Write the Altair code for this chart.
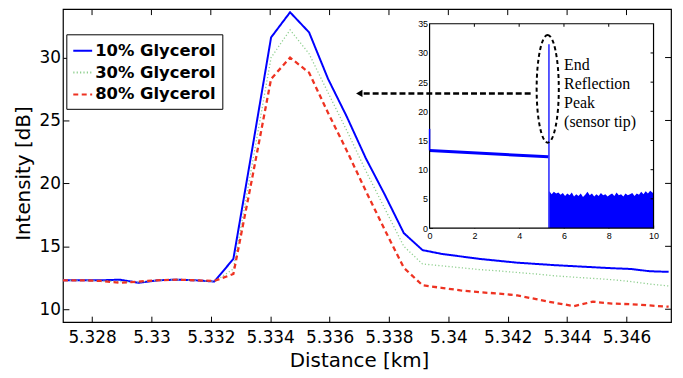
import altair as alt
import pandas as pd

# ---------------- main chart data ----------------
distance_km = [5.32702, 5.32766, 5.32830, 5.32893, 5.32957, 5.33021, 5.33085, 5.33148,
               5.33212, 5.33276, 5.33340, 5.33403, 5.33467, 5.33531, 5.33595, 5.33658,
               5.33722, 5.33786, 5.33850, 5.33913, 5.33977, 5.34041, 5.34105, 5.34168,
               5.34232, 5.34296, 5.34360, 5.34423, 5.34487, 5.34551, 5.34615, 5.34678,
               5.34742]
glycerol_10 = [12.3, 12.3, 12.3, 12.35, 12.1, 12.3, 12.35, 12.3, 12.2, 14.0, 22.8, 31.6,
               33.6, 32.0, 28.3, 25.3, 22.0, 19.1, 16.05, 14.7, 14.4, 14.2, 14.0, 13.85,
               13.7, 13.6, 13.5, 13.42, 13.34, 13.26, 13.2, 13.02, 12.97]
glycerol_30 = [12.3, 12.3, 12.25, 12.2, 12.15, 12.3, 12.35, 12.3, 12.2, 13.2, 21.6, 30.0,
               32.2, 30.3, 27.2, 24.2, 21.0, 18.0, 15.0, 13.6, 13.45, 13.3, 13.15, 13.05,
               12.92, 12.8, 12.65, 12.55, 12.45, 12.35, 12.2, 12.0, 11.85]
glycerol_80 = [12.3, 12.3, 12.25, 12.1, 12.2, 12.3, 12.35, 12.3, 12.25, 12.8, 20.5, 28.3,
               30.0, 28.8, 25.6, 22.6, 19.4, 16.3, 13.3, 11.9, 11.7, 11.5, 11.35, 11.25,
               11.1, 10.8, 10.5, 10.25, 10.6, 10.45, 10.4, 10.3, 10.2]
series_names = ["10% Glycerol", "30% Glycerol", "80% Glycerol"]
series_colors = ["#0000ff", "#8fcf8f", "#ee3322"]
series_dash = [[1, 0], [1.2, 2.2], [5, 3.5]]
series_width = [2, 1.3, 2.3]

x_ticks = [5.328, 5.33, 5.332, 5.334, 5.336, 5.338, 5.34, 5.342, 5.344, 5.346]
y_ticks = [10, 15, 20, 25, 30]
x_domain = [5.32702, 5.3475]
y_domain = [8.974, 33.845]

# arrow pointing from inset to the peak
arrow_y = 27.15
arrow_tip_x = 5.33700
arrow_start_x = 5.33715
arrow_end_x = 5.34284

# ---------------- inset data ----------------
inset_trace_x = [0.0, 5.3]
inset_trace_y = [13.3, 12.2]
inset_start_low, inset_start_high = 13.3, 17.0
peak_x, peak_top = 5.33, 31.5
noise_x = [5.35, 5.45, 5.55, 5.65, 5.75, 5.85, 5.95, 6.05, 6.15, 6.25, 6.35, 6.45, 6.55,
           6.65, 6.75, 6.85, 6.95, 7.05, 7.15, 7.25, 7.35, 7.45, 7.55, 7.65, 7.75, 7.85,
           7.95, 8.05, 8.15, 8.25, 8.35, 8.45, 8.55, 8.65, 8.75, 8.85, 8.95, 9.05, 9.15,
           9.25, 9.35, 9.45, 9.55, 9.65, 9.75, 9.85, 9.95, 10.0]
noise_top = [6.3, 5.8, 6.2, 5.9, 6.1, 5.7, 6.0, 5.5, 5.9, 5.6, 6.1, 5.4, 5.8, 5.5, 5.9,
             5.3, 5.7, 6.2, 5.6, 5.9, 5.4, 5.8, 5.5, 6.0, 5.6, 5.8, 5.4, 5.7, 5.9, 5.5,
             6.1, 5.6, 5.8, 5.4, 5.9, 5.6, 5.8, 6.0, 5.5, 5.9, 5.7, 6.2, 5.8, 6.3, 5.9,
             6.4, 6.1, 5.9]
inset_x_ticks = [0, 2, 4, 6, 8, 10]
inset_y_ticks = [0, 5, 10, 15, 20, 25, 30, 35]
inset_x_domain = [0, 10]
inset_y_domain = [0, 35]
ellipse_x, ellipse_y = 5.275, 23.85
annotation = ["End", "Reflection", "Peak", "(sensor tip)"]
annotation_x, annotation_y = 6.007, 29.26

# ---------------- build ----------------
rows = []
for name, vals in zip(series_names, [glycerol_10, glycerol_30, glycerol_80]):
    for d, v in zip(distance_km, vals):
        rows.append({"dist": d, "val": v, "series": name})
df = pd.DataFrame(rows)
one = pd.DataFrame({"a": [0]})

xs = alt.Scale(domain=x_domain, nice=False, zero=False)
ys = alt.Scale(domain=y_domain, nice=False, zero=False)
cs = alt.Scale(domain=series_names, range=series_colors)
ds = alt.Scale(domain=series_names, range=series_dash)

leg = alt.Legend(title=None, orient="none", legendX=3.4, legendY=25.3,
                 strokeColor="black", fillColor="white", padding=6,
                 labelFont="DejaVu Sans", labelFontWeight="bold", labelFontSize=16.5,
                 labelColor="black", symbolType="stroke", symbolSize=361,
                 symbolStrokeWidth=2, rowPadding=3, labelOffset=2)

x_axis = alt.Axis(values=x_ticks, format=".4~f", tickSize=6, offset=-6,
                  domain=False, labelPadding=7.5, labelFlush=False,
                  title="Distance [km]", titleX=298, titleY=45,
                  titleBaseline="middle", titleAlign="center")
y_axis = alt.Axis(values=y_ticks, tickSize=6, offset=-6, domain=False,
                  labelPadding=2.5, title="Intensity [dB]", titleX=-46,
                  titleY=165, titleBaseline="middle", titleAlign="center",
                  titleAngle=270)

line_layers = []
for name, w in zip(series_names, series_width):
    line_layers.append(
        alt.Chart(df).transform_filter(alt.datum.series == name).mark_line(strokeWidth=w).encode(
            x=alt.X("dist:Q", scale=xs, axis=x_axis),
            y=alt.Y("val:Q", scale=ys, axis=y_axis),
            color=alt.Color("series:N", scale=cs, legend=leg),
            strokeDash=alt.StrokeDash("series:N", scale=ds, legend=leg),
        )
    )

top_ticks = alt.Chart(pd.DataFrame({"t": x_ticks})).mark_rule(color="black").encode(
    x=alt.X("t:Q", scale=xs),
    y=alt.YDatum(y_domain[1], scale=ys),
    y2=alt.Y2Datum(y_domain[1] - 0.47),
)
right_ticks = alt.Chart(pd.DataFrame({"t": y_ticks})).mark_rule(color="black").encode(
    y=alt.Y("t:Q", scale=ys),
    x=alt.XDatum(x_domain[1], scale=xs),
    x2=alt.X2Datum(x_domain[1] - 0.0002),
)
main = alt.layer(*line_layers, top_ticks, right_ticks)

# inset
ixs = alt.Scale(domain=inset_x_domain, range=[369, 594.4], nice=False, zero=False)
iys = alt.Scale(domain=inset_y_domain, range=[220.3, 14.7], nice=False, zero=False)
ix_axis = alt.Axis(orient="bottom", values=inset_x_ticks, format="d", tickSize=3,
                   offset=-97.7, domain=False, labelPadding=3.5, labelFont="Liberation Sans",
                   labelFontSize=9, title=None, labelFlush=False)
iy_axis = alt.Axis(orient="left", values=inset_y_ticks, format="d", tickSize=3,
                   offset=-372, domain=False, labelPadding=2, labelFont="Liberation Sans",
                   labelFontSize=9, title=None, labelFlush=False)

inset_bg = alt.Chart(one).mark_rect(fill="white").encode(
    x=alt.XDatum(inset_x_domain[0], scale=ixs, axis=ix_axis, type="quantitative"),
    x2=alt.X2Datum(inset_x_domain[1]),
    y=alt.YDatum(inset_y_domain[0], scale=iys, axis=iy_axis, type="quantitative"),
    y2=alt.Y2Datum(inset_y_domain[1]),
)
noise = alt.Chart(pd.DataFrame({"nx": noise_x, "ny": noise_top})).mark_area(
    color="#0000ff", interpolate="linear").encode(
    x=alt.X("nx:Q", scale=ixs),
    y=alt.Y("ny:Q", scale=iys),
    y2=alt.Y2Datum(0),
)
trace = alt.Chart(pd.DataFrame({"tx": inset_trace_x, "ty": inset_trace_y})).mark_line(
    color="#0000ff", strokeWidth=3).encode(
    x=alt.X("tx:Q", scale=ixs),
    y=alt.Y("ty:Q", scale=iys),
)
start_rise = alt.Chart(one).mark_rule(color="#0000ff", strokeWidth=1.5).encode(
    x=alt.XDatum(inset_trace_x[0], scale=ixs),
    y=alt.YDatum(inset_start_low, scale=iys),
    y2=alt.Y2Datum(inset_start_high),
)
spike = alt.Chart(one).mark_rule(color="#0000ff", strokeWidth=1.3).encode(
    x=alt.XDatum(peak_x, scale=ixs),
    y=alt.YDatum(0, scale=iys),
    y2=alt.Y2Datum(peak_top),
)
itop_ticks = alt.Chart(pd.DataFrame({"t": inset_x_ticks[1:-1]})).mark_rule(color="black").encode(
    x=alt.X("t:Q", scale=ixs),
    y=alt.YDatum(inset_y_domain[1], scale=iys),
    y2=alt.Y2Datum(inset_y_domain[1] - 0.51),
)
iright_ticks = alt.Chart(pd.DataFrame({"t": inset_y_ticks[1:-1]})).mark_rule(color="black").encode(
    y=alt.Y("t:Q", scale=iys),
    x=alt.XDatum(inset_x_domain[1], scale=ixs),
    x2=alt.X2Datum(inset_x_domain[1] - 0.133),
)
frame = alt.Chart(one).mark_rect(fillOpacity=0, stroke="black", strokeWidth=1.2).encode(
    x=alt.XDatum(inset_x_domain[0], scale=ixs),
    x2=alt.X2Datum(inset_x_domain[1]),
    y=alt.YDatum(inset_y_domain[0], scale=iys),
    y2=alt.Y2Datum(inset_y_domain[1]),
)
ell_path = ("M0,-1 C0.1138,-1 0.206,-0.5523 0.206,0 C0.206,0.5523 0.1138,1 0,1 "
            "C-0.1138,1 -0.206,0.5523 -0.206,0 C-0.206,-0.5523 -0.1138,-1 0,-1 Z")
ellipse = alt.Chart(one).mark_point(shape=ell_path, size=11729, filled=False, color="black",
                                    strokeWidth=2, strokeDash=[4, 3], opacity=1).encode(
    x=alt.XDatum(ellipse_x, scale=ixs),
    y=alt.YDatum(ellipse_y, scale=iys),
)
label = alt.Chart(one).mark_text(text=annotation, align="left", baseline="top",
                                 font="Liberation Serif", fontSize=16, lineHeight=19,
                                 color="black").encode(
    x=alt.XDatum(annotation_x, scale=ixs),
    y=alt.YDatum(annotation_y, scale=iys),
)
inset = alt.layer(inset_bg, noise, trace, spike, itop_ticks, iright_ticks,
                  frame, start_rise, ellipse, label)

# arrow (main scale, no axes)
arrow_line = alt.Chart(one).mark_rule(color="black", strokeWidth=2.5, strokeDash=[6, 3]).encode(
    x=alt.XDatum(arrow_start_x, scale=xs, axis=None),
    x2=alt.X2Datum(arrow_end_x),
    y=alt.YDatum(arrow_y, scale=ys, axis=None),
)
arrow_head = alt.Chart(one).mark_point(shape="triangle-left", filled=True, size=55,
                                       color="black", opacity=1).encode(
    x=alt.XDatum(arrow_tip_x, scale=xs, axis=None),
    y=alt.YDatum(arrow_y, scale=ys, axis=None),
)
arrow = alt.layer(arrow_line, arrow_head)

chart = alt.layer(main, inset, arrow).resolve_scale(
    x="independent", y="independent"
).properties(
    width=612, height=315,
    autosize=alt.AutoSizeParams(type="none"),
    padding={"left": 55.3, "top": 0, "right": 4, "bottom": 50},
).configure_view(
    stroke="black", strokeWidth=1.2
).configure_axis(
    grid=False, labelColor="black", tickColor="black", titleColor="black",
    labelFont="DejaVu Sans", labelFontSize=17, titleFont="DejaVu Sans",
    titleFontSize=20, titleFontWeight="normal", tickWidth=1
)

chart.save("out.html", embed_options={"renderer": "svg", "actions": False})
